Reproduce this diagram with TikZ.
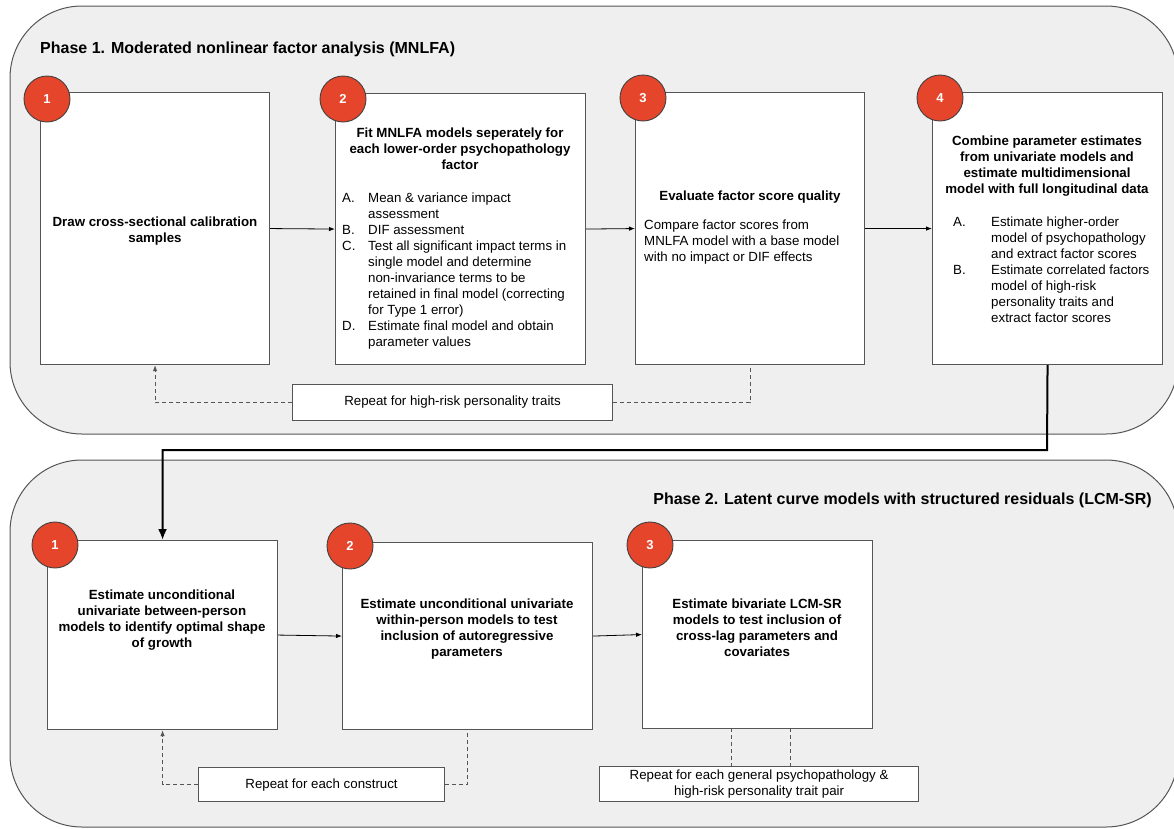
\documentclass[tikz,border=0pt]{standalone}
\usepackage{fontspec}
\setmainfont{Liberation Sans}
\usetikzlibrary{arrows.meta,calc}
\definecolor{panelfill}{HTML}{EFEFEF}
\definecolor{edge}{HTML}{555555}
\definecolor{badge}{HTML}{E5452A}
\tikzset{
 panel/.style={draw=edge, fill=panelfill, line width=1pt, rounded corners=72pt},
 stepbox/.style={draw=edge, fill=white, line width=1.1pt, inner sep=0pt, anchor=north west},
 badgec/.style={circle, draw=black!75, fill=badge, line width=0.9pt, minimum size=46pt, inner sep=0pt, text=white, font=\fontsize{13}{15}\selectfont\bfseries},
 txt/.style={font=\fontsize{13.3}{16}\selectfont, inner sep=0pt},
 btxt/.style={font=\fontsize{13.3}{16}\selectfont\bfseries, inner sep=0pt, align=center},
 ttl/.style={font=\fontsize{16}{19}\selectfont\bfseries, inner sep=0pt},
 flow/.style={-{Latex[length=6pt,width=4.5pt]}, line width=0.8pt, black},
 rep/.style={draw=edge, line width=1pt, dash pattern=on 4pt off 3pt},
 thick conn/.style={line width=2pt, black, -{Latex[length=11pt,width=9pt]}},
}
\newcommand{\li}[1]{\makebox[26pt][l]{#1}}
\newcommand{\lj}[1]{\makebox[38pt][l]{#1}}
\begin{document}
\begin{tikzpicture}[x=1pt,y=-1pt]
\useasboundingbox (0,0) rectangle (1174,828);
% panels
\path[panel] (10,6) rectangle (1178,434);
\path[panel] (10,460) rectangle (1178,827);
\node[ttl, anchor=base west] (t1) at (40,53) {Phase 1. Moderated nonlinear factor analysis (MNLFA)};
\node[ttl, anchor=base east] (t2) at (1152,504) {Phase 2. Latent curve models with structured residuals (LCM-SR)};

% phase 1 boxes
\node[stepbox, minimum width=229pt, minimum height=272pt] (b1) at (40,92) {};
\node[stepbox, minimum width=250pt, minimum height=271pt] (b2) at (335,93) {};
\node[stepbox, minimum width=229pt, minimum height=272pt] (b3) at (635,92) {};
\node[stepbox, minimum width=230pt, minimum height=272pt] (b4) at (932,92) {};
\node[stepbox, minimum width=320pt, minimum height=36pt] (rt) at (292,384) {};

\node[btxt] (b1t) at (155,231) {Draw cross-sectional calibration\\samples};
\node[btxt, anchor=north] (b2t) at (460,128) {Fit MNLFA models seperately for\\each lower-order psychopathology\\factor};
\node[txt, anchor=north west, align=left] (b2l) at (342,193) {\li{A.}Mean \& variance impact\\\li{}assessment\\\li{B.}DIF assessment\\\li{C.}Test all significant impact terms in\\\li{}single model and determine\\\li{}non-invariance terms to be\\\li{}retained in final model (correcting\\\li{}for Type 1 error)\\\li{D.}Estimate final model and obtain\\\li{}parameter values};
\node[btxt] (b3t) at (750,197) {Evaluate factor score quality};
\node[txt, anchor=north west, align=left] (b3l) at (644,220) {Compare factor scores from\\MNLFA model with a base model\\with no impact or DIF effects};
\node[btxt, anchor=north] (b4t) at (1047,136) {Combine parameter estimates\\from univariate models and\\estimate multidimensional\\model with full longitudinal data};
\node[txt, anchor=north west, align=left] (b4l) at (953,217) {\lj{A.}Estimate higher-order\\\lj{}model of psychopathology\\\lj{}and extract factor scores\\\lj{B.}Estimate correlated factors\\\lj{}model of high-risk\\\lj{}personality traits and\\\lj{}extract factor scores};
\node[txt] (rtt) at (rt.center) {Repeat for high-risk personality traits};

\node[badgec] (n1) at (47,99) {1};
\node[badgec] (n2) at (343,99) {2};
\node[badgec] (n3) at (643,98) {3};
\node[badgec] (n4) at (940,98) {4};

% phase 2 boxes
\node[stepbox, minimum width=230pt, minimum height=189pt] (c1) at (47,540) {};
\node[stepbox, minimum width=250pt, minimum height=187pt] (c2) at (342,542) {};
\node[stepbox, minimum width=230pt, minimum height=188pt] (c3) at (642,540) {};
\node[stepbox, minimum width=246pt, minimum height=34pt] (rc) at (198,767) {};
\node[stepbox, minimum width=319pt, minimum height=35pt] (rp) at (599,766) {};

\node[btxt] (c1t) at (162,620) {Estimate unconditional\\univariate between-person\\models to identify optimal shape\\of growth};
\node[btxt] (c2t) at (467,629) {Estimate unconditional univariate\\within-person models to test\\inclusion of autoregressive\\parameters};
\node[btxt] (c3t) at (757,628) {Estimate bivariate LCM-SR\\models to test inclusion of\\cross-lag parameters and\\covariates};
\node[txt] (rct) at (rc.center) {Repeat for each construct};
\node[txt, align=center] (rpt) at (rp.center) {Repeat for each general psychopathology \&\\high-risk personality trait pair};

\node[badgec] (m1) at (55,545) {1};
\node[badgec] (m2) at (350,546) {2};
\node[badgec] (m3) at (650,545) {3};

% connectors
\draw[flow] (b1.east) -- (b2.west);
\draw[flow] (b2.east) -- (b3.west);
\draw[flow] (b3.east) -- (b4.west);
\draw[flow] (c1.east) -- (c2.west);
\draw[flow] (c2.east) -- (c3.west);
\draw[rep, -{Latex[length=6pt,width=4.5pt]}] (rt.west) -| (b1.south);
\draw[rep] (rt.east) -| (b3.south);
\draw[rep, -{Latex[length=6pt,width=4.5pt]}] (rc.west) -| (c1.south);
\draw[rep] (rc.east) -| (c2.south);
\coordinate (p1) at (731.5,728);
\coordinate (p2) at (790,728);
\draw[rep] (p1) -- (p1 |- rp.north);
\draw[rep] (p2) -- (p2 |- rp.north);
\coordinate (turn) at (1047,450);
\draw[thick conn] (b4.south) -- (turn) -| (c1.north);
\end{tikzpicture}
\end{document}
